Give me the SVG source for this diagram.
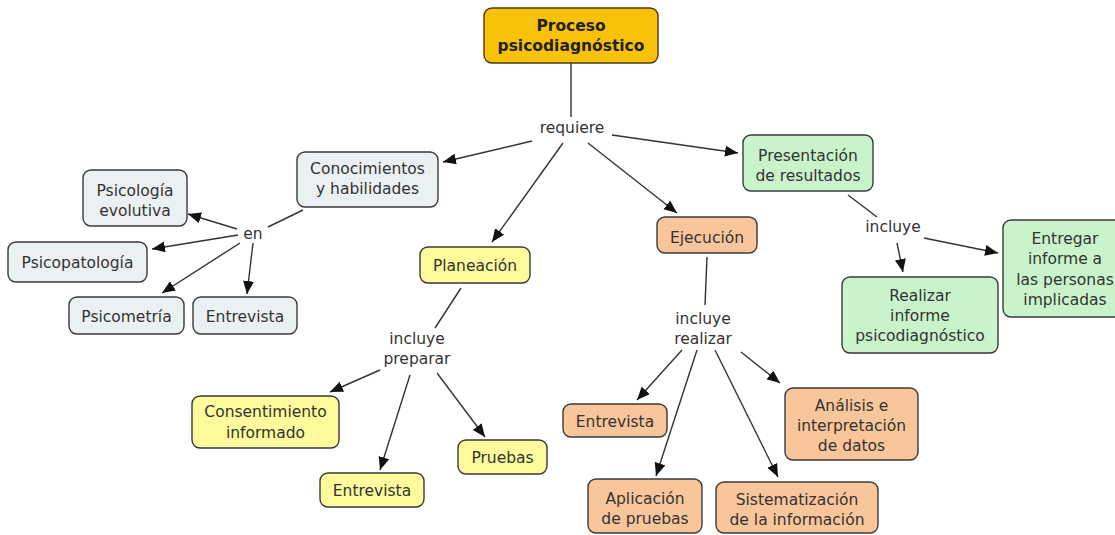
<svg xmlns="http://www.w3.org/2000/svg" width="1115" height="535" viewBox="0 0 1115 535">
<style>
text{font-family:"DejaVu Sans","Verdana",sans-serif;font-size:15.5px;fill:#333;text-anchor:middle}
.b{font-weight:bold;fill:#222}
.n{stroke:#3a3a3a;stroke-width:1.4}
.root{fill:#F9C20A;stroke:#4a3c10}
.gray{fill:#EBF1F3}
.yel{fill:#FDFB9C}
.pch{fill:#F9C69C}
.grn{fill:#C9F4CB}
#connectors line{stroke:#333;stroke-width:1.4;fill:none}
#connectors line.a{marker-end:url(#arr)}
</style>
<defs>
<marker id="arr" markerUnits="userSpaceOnUse" markerWidth="14" markerHeight="12" refX="13" refY="5.5" orient="auto">
<path d="M0,0 L13,5.5 L0,11 z" fill="#111"/>
</marker>
</defs>
<rect x="0" y="0" width="1115" height="535" fill="#fff"/>
<g id="connectors">
<line x1="571" y1="63" x2="571" y2="117"/>
<line class="a" x1="532" y1="141" x2="443" y2="162"/>
<line class="a" x1="563" y1="143" x2="492" y2="242"/>
<line class="a" x1="588" y1="143" x2="677" y2="213"/>
<line class="a" x1="612" y1="135" x2="738" y2="153"/>
<line x1="303" y1="210" x2="268" y2="227"/>
<line class="a" x1="237" y1="229" x2="188" y2="214"/>
<line class="a" x1="238" y1="235" x2="152" y2="249"/>
<line class="a" x1="240" y1="243" x2="162" y2="293"/>
<line class="a" x1="253" y1="243" x2="247" y2="294"/>
<line x1="461" y1="288" x2="435" y2="328"/>
<line class="a" x1="380" y1="370" x2="330" y2="392"/>
<line class="a" x1="410" y1="375" x2="380" y2="470"/>
<line class="a" x1="437" y1="373" x2="485" y2="437"/>
<line x1="707" y1="257" x2="705" y2="305"/>
<line class="a" x1="682" y1="350" x2="637" y2="400"/>
<line class="a" x1="697" y1="350" x2="656" y2="476"/>
<line class="a" x1="715" y1="350" x2="778" y2="477"/>
<line class="a" x1="741" y1="352" x2="780" y2="383"/>
<line x1="848" y1="195" x2="877" y2="217"/>
<line class="a" x1="897" y1="243" x2="903" y2="272"/>
<line class="a" x1="924" y1="238" x2="998" y2="253"/>
</g>
<g id="n-root"><rect class="n root" x="484" y="8" width="174" height="55" rx="8"/><text class="b" x="571" y="30.5">Proceso</text><text class="b" x="571" y="50.5">psicodiagnóstico</text></g>
<g id="l-requiere"><text x="572" y="133">requiere</text></g>
<g id="n-conoc"><rect class="n gray" x="297" y="152" width="141" height="55" rx="8"/><text x="367.5" y="173.5">Conocimientos</text><text x="367.5" y="193.5">y habilidades</text></g>
<g id="l-en"><text x="253" y="239">en</text></g>
<g id="n-psievo"><rect class="n gray" x="83" y="170" width="104" height="56" rx="8"/><text x="135" y="195.5">Psicología</text><text x="135" y="215.5">evolutiva</text></g>
<g id="n-psipat"><rect class="n gray" x="8" y="242" width="139" height="40" rx="8"/><text x="77.5" y="267.5">Psicopatología</text></g>
<g id="n-psimet"><rect class="n gray" x="69" y="297" width="115" height="37" rx="8"/><text x="126.5" y="321.5">Psicometría</text></g>
<g id="n-entrev1"><rect class="n gray" x="193" y="297" width="104" height="37" rx="8"/><text x="245" y="321.5">Entrevista</text></g>
<g id="n-plan"><rect class="n yel" x="420" y="247" width="110" height="36" rx="8"/><text x="475" y="271">Planeación</text></g>
<g id="l-incprep"><text x="417" y="344">incluye</text><text x="417" y="364">preparar</text></g>
<g id="n-consent"><rect class="n yel" x="192" y="396" width="147" height="52" rx="8"/><text x="265.5" y="417">Consentimiento</text><text x="265.5" y="437.5">informado</text></g>
<g id="n-entrev2"><rect class="n yel" x="320" y="473" width="104" height="34" rx="8"/><text x="372" y="496">Entrevista</text></g>
<g id="n-pruebas"><rect class="n yel" x="458" y="440" width="89" height="34" rx="8"/><text x="502.5" y="462.5">Pruebas</text></g>
<g id="n-ejec"><rect class="n pch" x="657" y="217" width="100" height="36" rx="8"/><text x="707" y="242.5">Ejecución</text></g>
<g id="l-increal"><text x="703" y="324">incluye</text><text x="703" y="344">realizar</text></g>
<g id="n-entrev3"><rect class="n pch" x="563" y="404" width="104" height="33" rx="8"/><text x="615" y="427">Entrevista</text></g>
<g id="n-aplic"><rect class="n pch" x="588" y="479" width="114" height="54" rx="8"/><text x="645" y="503.5">Aplicación</text><text x="645" y="523.5">de pruebas</text></g>
<g id="n-sistem"><rect class="n pch" x="716" y="482" width="162" height="51" rx="8"/><text x="797" y="505">Sistematización</text><text x="797" y="525">de la información</text></g>
<g id="n-analisis"><rect class="n pch" x="785" y="388" width="133" height="72" rx="8"/><text x="851.5" y="410.5">Análisis e</text><text x="851.5" y="430.5">interpretación</text><text x="851.5" y="450.5">de datos</text></g>
<g id="n-present"><rect class="n grn" x="743" y="135" width="130" height="56" rx="8"/><text x="808" y="160.5">Presentación</text><text x="808" y="180.5">de resultados</text></g>
<g id="l-incluye"><text x="893" y="232">incluye</text></g>
<g id="n-realizar"><rect class="n grn" x="842" y="277" width="156" height="76" rx="8"/><text x="920" y="300.5">Realizar</text><text x="920" y="320.5">informe</text><text x="920" y="340.5">psicodiagnóstico</text></g>
<g id="n-entregar"><rect class="n grn" x="1003" y="220" width="126" height="97" rx="8"/><text x="1065" y="243.5">Entregar</text><text x="1065" y="264">informe a</text><text x="1065" y="284.5">las personas</text><text x="1065" y="305">implicadas</text></g>
</svg>
